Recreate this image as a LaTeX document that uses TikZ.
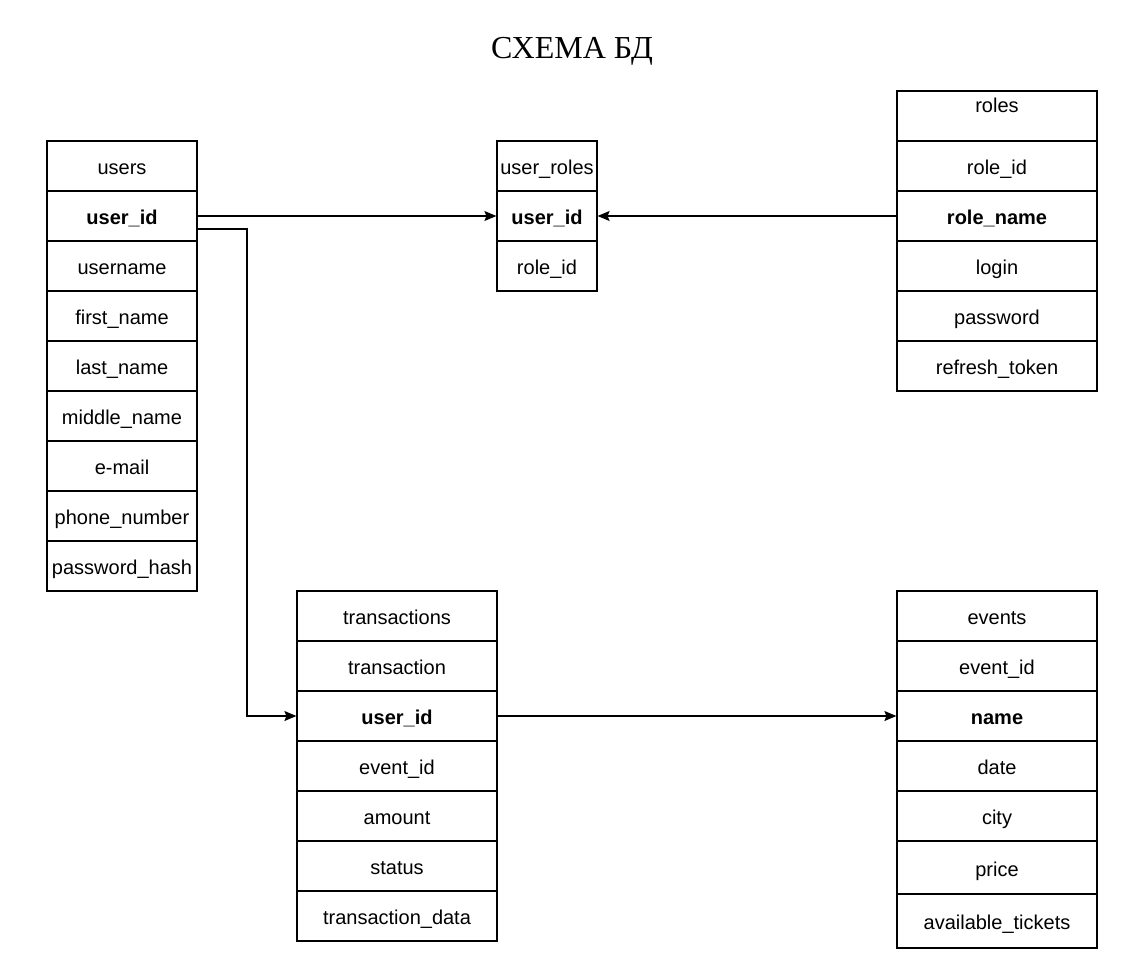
\documentclass[tikz,border=0pt]{standalone}
\usepackage{fontspec}
\setmainfont{Liberation Sans}
\newfontfamily\titlefont{Liberation Serif}
\usetikzlibrary{arrows.meta}
\tikzset{
  cell/.style={draw, line width=1.2pt, inner sep=0pt, minimum height=50pt, text height=17pt, text depth=0pt, font=\fontsize{20}{23}\selectfont},
  keycell/.style={cell, font=\fontsize{20}{23}\selectfont\bfseries},
  conn/.style={draw, line width=1.2pt, -{Stealth[length=12pt,width=10pt,inset=2pt]}}
}
\begin{document}
\begin{tikzpicture}[x=1pt,y=-1pt]
\useasboundingbox[fill=white] (0,0) rectangle (1146,962);
\node[font=\titlefont\fontsize{32}{36}\selectfont, anchor=base, inner sep=0pt] (title) at (572,58) {СХЕМА БД};

% users
\begin{scope}[every node/.append style={minimum width=150pt}]
\node[cell] (uH) at (122,166) {users};
\node[keycell] (uUid) at (122,216) {user\_id};
\node[cell] (uUn) at (122,266) {username};
\node[cell] (uFn) at (122,316) {first\_name};
\node[cell] (uLn) at (122,366) {last\_name};
\node[cell] (uMn) at (122,416) {middle\_name};
\node[cell] (uEm) at (122,466) {e-mail};
\node[cell] (uPh) at (122,516) {phone\_number};
\node[cell] (uPw) at (122,566) {password\_hash};
\end{scope}

% user_roles
\begin{scope}[every node/.append style={minimum width=100pt}]
\node[cell] (urH) at (547,166) {user\_roles};
\node[keycell] (urUid) at (547,216) {user\_id};
\node[cell] (urRid) at (547,266) {role\_id};
\end{scope}

% roles
\begin{scope}[every node/.append style={minimum width=200pt}]
\node[cell] (rH) at (997,116) {};
\node[cell] (rId) at (997,166) {role\_id};
\node[keycell] (rName) at (997,216) {role\_name};
\node[cell] (rLogin) at (997,266) {login};
\node[cell] (rPass) at (997,316) {password};
\node[cell] (rTok) at (997,366) {refresh\_token};
\end{scope}
\node[font=\fontsize{20}{23}\selectfont, inner sep=0pt, text height=17pt, text depth=0pt] (rT) at (997,104) {roles};

% transactions
\begin{scope}[every node/.append style={minimum width=200pt}]
\node[cell] (tH) at (397,616) {transactions};
\node[cell] (tTr) at (397,666) {transaction};
\node[keycell] (tUid) at (397,716) {user\_id};
\node[cell] (tEv) at (397,766) {event\_id};
\node[cell] (tAm) at (397,816) {amount};
\node[cell] (tSt) at (397,866) {status};
\node[cell] (tDt) at (397,916) {transaction\_data};
\end{scope}

% events
\begin{scope}[every node/.append style={minimum width=200pt}]
\node[cell] (eH) at (997,616) {events};
\node[cell] (eId) at (997,666) {event\_id};
\node[keycell] (eName) at (997,716) {name};
\node[cell] (eDate) at (997,766) {date};
\node[cell] (eCity) at (997,816) {city};
\node[cell, minimum height=53pt] (ePrice) at (997,867.5) {price};
\node[cell, minimum height=54pt] (eAv) at (997,921) {available\_tickets};
\end{scope}

% connectors
\draw[conn] (uUid.east) -- (urUid.west);
\draw[conn] (rName.west) -- (urUid.east);
\coordinate (bend) at (247,229);
\draw[conn] ([yshift=-13pt]uUid.east) -- (bend) |- (tUid.west);
\draw[conn] (tUid.east) -- (eName.west);
\end{tikzpicture}
\end{document}
